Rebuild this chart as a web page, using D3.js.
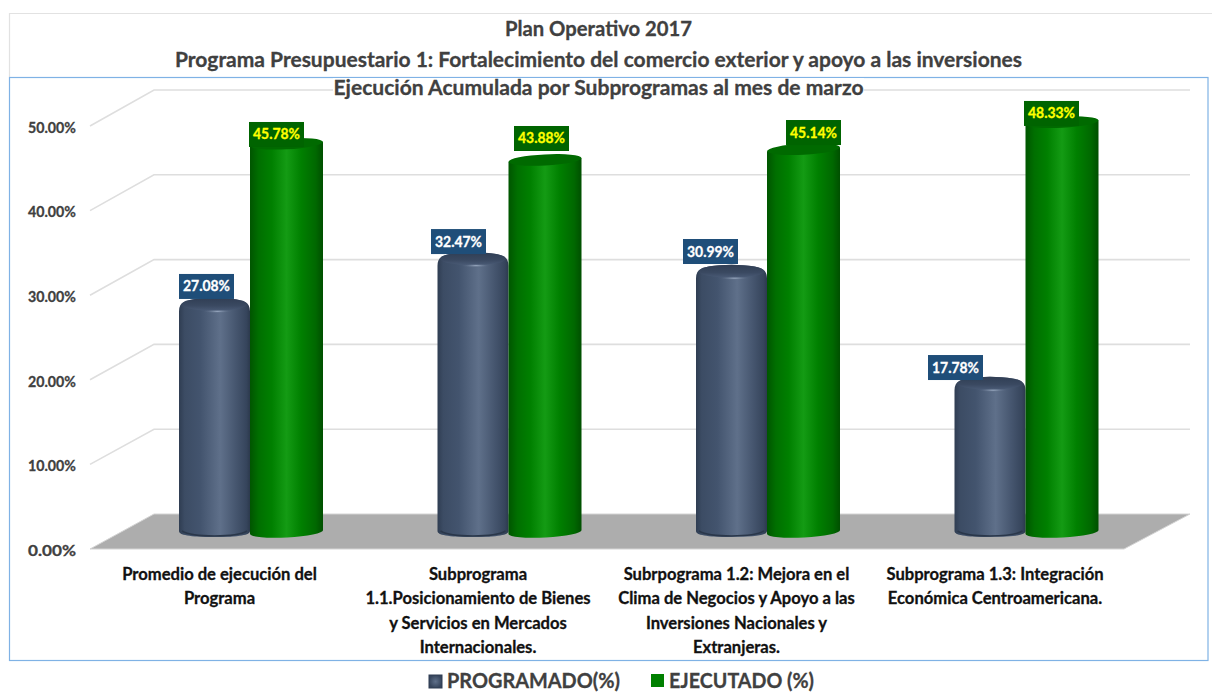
<!DOCTYPE html>
<html><head><meta charset="utf-8">
<script src="https://cdn.jsdelivr.net/npm/d3@7"></script>
<style>html,body{margin:0;padding:0;background:#fff}svg{display:block}text{font-family:Lato,"Open Sans",sans-serif;font-weight:700}</style>
</head><body><div id="chart"></div>
<script>
const categories = [
  ["Promedio de ejecución del","Programa"],
  ["Subprograma","1.1.Posicionamiento de Bienes","y Servicios en Mercados","Internacionales."],
  ["Subrpograma 1.2: Mejora en el","Clima de Negocios y Apoyo a las","Inversiones Nacionales y","Extranjeras."],
  ["Subprograma 1.3: Integración","Económica Centroamericana."]
];
const seriesNames = ["PROGRAMADO(%)","EJECUTADO (%)"];
const programado = [27.08,32.47,30.99,17.78];
const ejecutado = [45.78,43.88,45.14,48.33];
const yTicks = [0,10,20,30,40,50];
const titleLines = ["Plan Operativo 2017","Programa Presupuestario 1: Fortalecimiento del comercio exterior y apoyo a las inversiones","Ejecución Acumulada por Subprogramas al mes de marzo"];

// label nudges relative to the group centre / top of each cylinder
const progLabelDx = [-43.5,-50,-56.5,-70], progLabelDy = [-17.9,-17.1,-19.7,-15.7];
const ejecLabelDx = [26.5,33,46.5,26], ejecLabelDy = [-9.3,-21.4,-16.7,-8.7];

const W=1212,H=698;
const svg=d3.select("#chart").append("svg").attr("width",W).attr("height",H);
const defs=svg.append("defs");
function hGrad(id,stops){const g=defs.append("linearGradient").attr("id",id);stops.forEach(s=>g.append("stop").attr("offset",s[0]).attr("stop-color",s[1]));}
function vGrad(id,stops){const g=defs.append("linearGradient").attr("id",id).attr("x2",0).attr("y2",1);stops.forEach(s=>g.append("stop").attr("offset",s[0]).attr("stop-color",s[1]));}
hGrad("gBlue",[[0,"#2f3d52"],[.08,"#3c4c64"],[.3,"#43546e"],[.58,"#5f708a"],[.8,"#46566f"],[.95,"#36455c"],[1,"#2c394d"]]);
hGrad("gGreen",[[0,"#005500"],[.12,"#006f00"],[.3,"#008000"],[.5,"#149b14"],[.7,"#008000"],[.9,"#006800"],[1,"#004f00"]]);
vGrad("gCap",[[0,"#303e54"],[.6,"#3a4961"],[1,"#4a5b76"]]);
const hl=defs.append("radialGradient").attr("id","gHi");
hl.append("stop").attr("offset",0).attr("stop-color","#9aaac1");
hl.append("stop").attr("offset",1).attr("stop-color","#4a5a74").attr("stop-opacity",0);
const sw=defs.append("radialGradient").attr("id","gSw");
sw.append("stop").attr("offset",0).attr("stop-color","#5f708a");
sw.append("stop").attr("offset",1).attr("stop-color","#36455c");

// frames
svg.append("path").attr("d","M9.5,77V13.5H1212").attr("fill","none").attr("stroke","#e2e2e2").attr("stroke-width",1.2);
svg.append("rect").attr("x",9.5).attr("y",77.5).attr("width",1198.5).attr("height",583).attr("fill","#fff").attr("stroke","#7fb2e5").attr("stroke-width",1.2);

// scales
const yBack=d3.scaleLinear().domain([0,50]).range([514,90]);
const yFront=d3.scaleLinear().domain([0,50]).range([549,126]);
const yProg=d3.scaleLinear().domain([0,50]).range([534,110]);
const yEjec=d3.scaleLinear().domain([0,50]).range([532,108]);
const x=d3.scaleBand().domain(d3.range(categories.length)).range([120.75,1154.75]);
const frontL=90,backL=154,backR=1190,frontR=1124;

// grid
const grid=svg.append("g").attr("fill","none").attr("stroke","#dedede").attr("stroke-width",1.6);
yTicks.filter(t=>t>0).forEach(t=>{
  grid.append("path").attr("d",`M${frontL},${yFront(t)}L${backL},${yBack(t)}H${backR}`);
});
// floor
svg.append("path").attr("d",`M${frontL},${yFront(0)}L${backL},${yBack(0)}H${backR}L${frontR},${yFront(0)}Z`).attr("fill","#adadad").attr("stroke","#d4d4d4").attr("stroke-width",1);

const heavy=(sel,c)=>sel.attr("stroke",c).attr("stroke-width",0.3);

// y axis
const axis=svg.append("g").attr("transform","translate(84,1.5)").call(d3.axisLeft(yFront).tickValues(yTicks).tickSize(0).tickPadding(8).tickFormat(d=>d3.format(".2f")(d)+"%"));
axis.select(".domain").remove();
axis.selectAll("text").attr("fill","#404040").style("font-size","15px").attr("textLength",48).attr("lengthAdjust","spacingAndGlyphs").call(heavy,"#404040");

// title
const tY=[36,67,95], tLen=[187,847,530];
svg.append("rect").attr("x",333).attr("y",78).attr("width",531).attr("height",22).attr("fill","#fff");
titleLines.forEach((t,i)=>{
 svg.append("text").attr("x",598.5).attr("y",tY[i]).attr("text-anchor","middle").attr("fill","#404040").style("font-size","21px").attr("textLength",tLen[i]).attr("lengthAdjust","spacingAndGlyphs").call(heavy,"#404040").text(t);
});

// cylinders
const blueW=71, greenW=73, ry=5.5, tilt=-3, lift=2;
function drawGreen(i){
  const l=x(i)+x.bandwidth()/2, w=greenW, t=yEjec(ejecutado[i]), b=yEjec(0), rx=w/2;
  const g=svg.append("g");
  g.append("path").attr("d",`M${l},${t+lift}V${b+lift}A${rx},${ry} ${tilt} 0 0 ${l+w},${b-lift}V${t-lift}Z`).attr("fill","url(#gGreen)");
  g.append("ellipse").attr("cx",l+rx).attr("cy",t).attr("rx",rx).attr("ry",ry).attr("transform",`rotate(${tilt} ${l+rx} ${t})`).attr("fill","#006a00");
}
function drawBlue(i){
  const w=blueW, l=x(i)+x.bandwidth()/2-w, t=yProg(programado[i]), b=yProg(0), r=w/2;
  const g=svg.append("g");
  g.append("path").attr("d",`M${l},${t+7}C${l},${t-3} ${l+8},${t-4} ${l+14},${t-5}Q${l+r},${t-8} ${l+w-14},${t-5}C${l+w-8},${t-4} ${l+w},${t-3} ${l+w},${t+7}V${b-3}C${l+w},${b+1} ${l+w-10},${b+3} ${l+r},${b+3}C${l+10},${b+3} ${l},${b+1} ${l},${b-3}Z`).attr("fill","url(#gBlue)");
  g.append("ellipse").attr("cx",l+r).attr("cy",t).attr("rx",r-3).attr("ry",6.5).attr("fill","url(#gCap)");
  g.append("ellipse").attr("cx",l+r+3).attr("cy",t+7).attr("rx",15).attr("ry",2).attr("fill","url(#gHi)");
  g.append("path").attr("d",`M${l+3},${b-3}C${l+8},${b} ${l+20},${b+2} ${l+r},${b+2}C${l+w-20},${b+2} ${l+w-8},${b} ${l+w-3},${b-3}`).attr("fill","none").attr("stroke","#2a374a").attr("stroke-width",1.5);
}
categories.forEach((c,i)=>{drawBlue(i);drawGreen(i);});

// data labels
function label(val,cx,cy,fill,color){
  svg.append("rect").attr("x",cx-27.5).attr("y",cy-12.5).attr("width",55).attr("height",25).attr("fill",fill);
  svg.append("text").attr("x",cx).attr("y",cy+5).attr("text-anchor","middle").attr("fill",color).style("font-size","15px").attr("textLength",47).attr("lengthAdjust","spacingAndGlyphs").call(heavy,color).text(d3.format(".2f")(val)+"%");
}
categories.forEach((c,i)=>{
  const cx0=x(i)+x.bandwidth()/2;
  label(programado[i],cx0+progLabelDx[i],yProg(programado[i])+progLabelDy[i],"#1f4e79","#fff");
  label(ejecutado[i],cx0+ejecLabelDx[i],yEjec(ejecutado[i])+ejecLabelDy[i],"#006400","#ffff00");
});

// category labels
categories.forEach((c,i)=>{
  const cx=x(i)+x.bandwidth()/2-30.5;
  const t=svg.append("text").attr("text-anchor","middle").attr("fill","#111").style("font-size","16.6px").call(heavy,"#111");
  c.forEach((line,j)=>t.append("tspan").attr("x",cx).attr("y",580+j*24.3).text(line));
});

// legend
const leg=svg.append("g");
leg.append("rect").attr("x",429).attr("y",675).attr("width",13).attr("height",13).attr("fill","url(#gSw)").attr("stroke","#2f3d52");
leg.append("text").attr("x",447).attr("y",688).attr("fill","#404040").style("font-size","21px").attr("textLength",173).attr("lengthAdjust","spacingAndGlyphs").call(heavy,"#404040").text(seriesNames[0]);
leg.append("rect").attr("x",651).attr("y",674).attr("width",13).attr("height",13).attr("fill","#008000");
leg.append("text").attr("x",669).attr("y",688).attr("fill","#404040").style("font-size","21px").attr("textLength",145).attr("lengthAdjust","spacingAndGlyphs").call(heavy,"#404040").text(seriesNames[1]);
</script></body></html>
